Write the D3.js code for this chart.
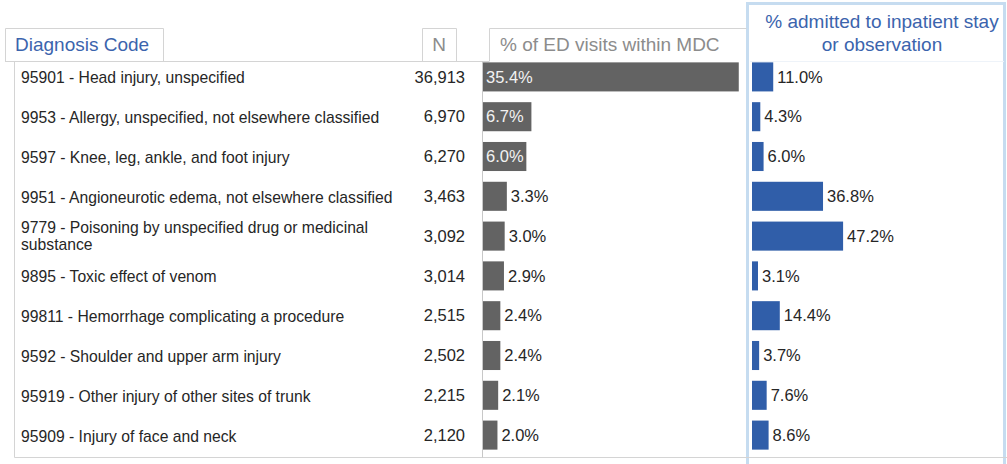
<!DOCTYPE html>
<html>
<head>
<meta charset="utf-8">
<script src="https://cdn.jsdelivr.net/npm/d3@7"></script>
<style>
  body { margin: 0; background: #fff; }
  svg { font-family: "Liberation Sans", Arial, sans-serif; display: block; }
  .lbl { font-size: 16.5px; fill: #262626; }
  .code { font-size: 15.7px; }
</style>
</head>
<body>
<svg id="chart" width="1007" height="464"></svg>
<script>
// Data
const codes = [
  "95901 - Head injury, unspecified",
  "9953 - Allergy, unspecified, not elsewhere classified",
  "9597 - Knee, leg, ankle, and foot injury",
  "9951 - Angioneurotic edema, not elsewhere classified",
  "9779 - Poisoning by unspecified drug or medicinal|substance",
  "9895 - Toxic effect of venom",
  "99811 - Hemorrhage complicating a procedure",
  "9592 - Shoulder and upper arm injury",
  "95919 - Other injury of other sites of trunk",
  "95909 - Injury of face and neck"
];
const counts = [36913, 6970, 6270, 3463, 3092, 3014, 2515, 2502, 2215, 2120];
const edPct = [35.4, 6.7, 6.0, 3.3, 3.0, 2.9, 2.4, 2.4, 2.1, 2.0];
const admitPct = [11.0, 4.3, 6.0, 36.8, 47.2, 3.1, 14.4, 3.7, 7.6, 8.6];

const rows = codes.map((c, i) => ({ code: c, n: counts[i], ed: edPct[i], adm: admitPct[i] }));

const svg = d3.select("#chart");
const lineCol = "#d4d4d4";
const blueText = "#3b64ad";

// Scales
const y = d3.scaleBand()
  .domain(codes)
  .range([57, 455])
  .paddingInner(0.27)
  .paddingOuter(0.135);

const xEd = d3.scaleLinear().domain([0, 40]).range([483, 772]);
const xAdm = d3.scaleLinear().domain([0, 50]).range([752, 848.5]);

// Right panel frame (light blue)
svg.append("rect")
  .attr("x", 747.5).attr("y", 3.5)
  .attr("width", 257).attr("height", 470)
  .attr("fill", "none")
  .attr("stroke", "#c6dcf0")
  .attr("stroke-width", 3);

svg.append("line")
  .attr("x1", 750).attr("x2", 1004)
  .attr("y1", 61.5).attr("y2", 61.5)
  .attr("stroke", "#eef3f9");

// Tabs
const tabs = [
  { x: 5, w: 158, text: "Diagnosis Code", col: blueText, anchor: "start", tx: 15 },
  { x: 422, w: 34, text: "N", col: "#8c8c8c", anchor: "middle", tx: 439 },
  { x: 489, w: 257, text: "% of ED visits within MDC", col: "#8c8c8c", anchor: "start", tx: 500 }
];
tabs.forEach(t => {
  const p = d3.path();
  p.moveTo(t.x + 0.5, 61.5);
  p.lineTo(t.x + 0.5, 28.5);
  p.lineTo(t.x + t.w + 0.5, 28.5);
  if (t.x < 480) p.lineTo(t.x + t.w + 0.5, 61.5);
  svg.append("path").attr("d", p.toString())
    .attr("fill", "none").attr("stroke", lineCol);
  svg.append("text")
    .attr("x", t.tx).attr("y", 44)
    .attr("dy", "0.35em")
    .attr("text-anchor", t.anchor)
    .style("font-size", "19px")
    .attr("fill", t.col)
    .text(t.text);
});

// table frame
svg.append("line").attr("x1", 5).attr("x2", 489).attr("y1", 61.5).attr("y2", 61.5).attr("stroke", lineCol);
svg.append("line").attr("x1", 14.5).attr("x2", 14.5).attr("y1", 61.5).attr("y2", 457.5).attr("stroke", lineCol);
svg.append("line").attr("x1", 14.5).attr("x2", 1007).attr("y1", 457.5).attr("y2", 457.5).attr("stroke", lineCol);
svg.append("line").attr("x1", 482.5).attr("x2", 482.5).attr("y1", 61.5).attr("y2", 457.5).attr("stroke", "#c8c8c8");

// Right title
const title = svg.append("text")
  .attr("text-anchor", "middle")
  .attr("fill", blueText)
  .style("font-size", "19px");
title.append("tspan").attr("x", 882).attr("y", 28).text("% admitted to inpatient stay");
title.append("tspan").attr("x", 882).attr("y", 51).text("or observation");

// Diagnosis labels
const lab = svg.selectAll(".code")
  .data(rows)
  .enter()
  .append("text")
  .attr("class", "lbl code")
  .attr("x", 21)
  .attr("y", d => y(d.code) + y.bandwidth() / 2 + 1)
  .attr("dy", "0.35em");
lab.each(function(d) {
  const parts = d.code.split("|");
  const t = d3.select(this);
  if (parts.length === 1) {
    t.text(parts[0]);
  } else {
    t.attr("dy", null);
    t.append("tspan").attr("x", 21).attr("y", y(d.code) + y.bandwidth() / 2 - 3).text(parts[0]);
    t.append("tspan").attr("x", 21).attr("y", y(d.code) + y.bandwidth() / 2 + 14).text(parts[1]);
  }
});

// N column
svg.selectAll(".n")
  .data(rows)
  .enter()
  .append("text")
  .attr("class", "lbl n")
  .attr("x", 465)
  .attr("y", d => y(d.code) + y.bandwidth() / 2)
  .attr("dy", "0.35em")
  .attr("text-anchor", "end")
  .text(d => d3.format(",")(d.n));

// ED bars
svg.selectAll(".edbar")
  .data(rows)
  .enter()
  .append("rect")
  .attr("class", "edbar")
  .attr("x", xEd(0))
  .attr("y", d => y(d.code))
  .attr("width", d => xEd(d.ed) - xEd(0))
  .attr("height", y.bandwidth())
  .attr("fill", "#636363");

svg.selectAll(".edlab")
  .data(rows)
  .enter()
  .append("text")
  .attr("class", "lbl edlab")
  .attr("x", d => d.ed >= 5 ? xEd(0) + 3 : xEd(d.ed) + 4)
  .attr("y", d => y(d.code) + y.bandwidth() / 2)
  .attr("dy", "0.35em")
  .style("fill", d => d.ed >= 5 ? "#f2f2f2" : "#262626")
  .text(d => d.ed.toFixed(1) + "%");

// Admission bars
svg.selectAll(".admbar")
  .data(rows)
  .enter()
  .append("rect")
  .attr("class", "admbar")
  .attr("x", xAdm(0))
  .attr("y", d => y(d.code))
  .attr("width", d => xAdm(d.adm) - xAdm(0))
  .attr("height", y.bandwidth())
  .attr("fill", "#305ea9");

svg.selectAll(".admlab")
  .data(rows)
  .enter()
  .append("text")
  .attr("class", "lbl admlab")
  .attr("x", d => xAdm(d.adm) + 4)
  .attr("y", d => y(d.code) + y.bandwidth() / 2)
  .attr("dy", "0.35em")
  .text(d => d.adm.toFixed(1) + "%");
</script>
</body>
</html>
